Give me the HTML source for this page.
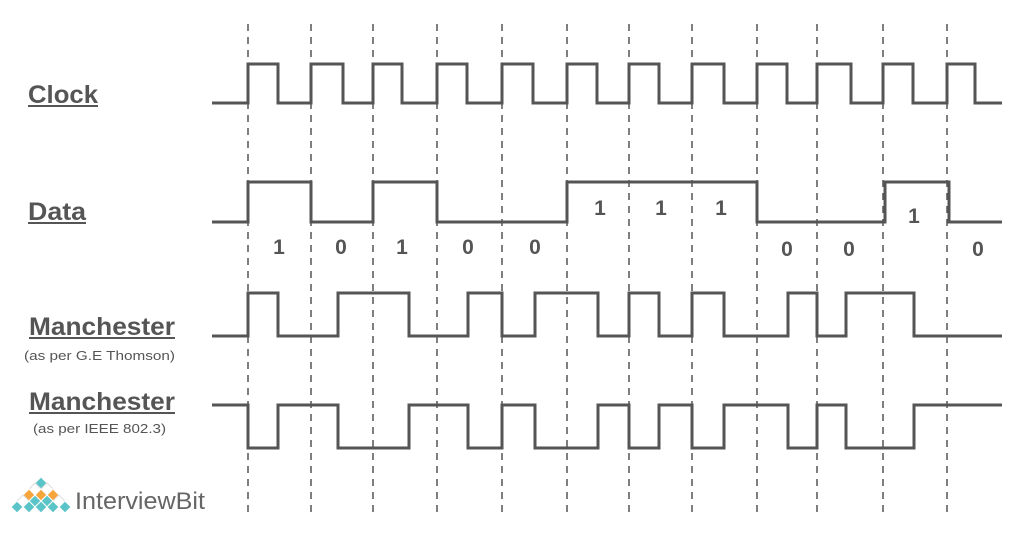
<!DOCTYPE html>
<html><head><meta charset="utf-8"><style>
html,body{margin:0;padding:0;background:#fff;width:1024px;height:536px;overflow:hidden}
</style></head><body>
<svg width="1024" height="536" viewBox="0 0 1024 536" xmlns="http://www.w3.org/2000/svg" font-family="Liberation Sans, sans-serif">
<g stroke="#555" stroke-width="1.5" stroke-dasharray="7,6">
<line x1="248" y1="24" x2="248" y2="512"/><line x1="311" y1="24" x2="311" y2="512"/>
<line x1="373" y1="24" x2="373" y2="512"/><line x1="437" y1="24" x2="437" y2="512"/>
<line x1="502" y1="24" x2="502" y2="512"/><line x1="567" y1="24" x2="567" y2="512"/>
<line x1="629" y1="24" x2="629" y2="512"/><line x1="692" y1="24" x2="692" y2="512"/>
<line x1="757" y1="24" x2="757" y2="512"/><line x1="817" y1="24" x2="817" y2="512"/>
<line x1="883" y1="24" x2="883" y2="512"/><line x1="947" y1="24" x2="947" y2="512"/>
</g>
<g fill="none" stroke="#555" stroke-width="3">
<path d="M212,103 H248 V64 H278 V103 H311 V64 H343 V103 H373 V64 H402 V103 H437 V64 H467 V103 H502 V64 H533 V103 H567 V64 H597 V103 H629 V64 H659 V103 H692 V64 H724 V103 H757 V64 H787 V103 H817 V64 H851 V103 H883 V64 H913 V103 H947 V64 H975 V103 H1002"/>
<path d="M212,222 H248 V182 H311 V222 H373 V182 H437 V222 H567 V182 H757 V222 H885 V182 H949 V222 H1002"/>
<path d="M212,336 H248 V293 H278 V336 H338 V293 H409 V336 H468 V293 H502 V336 H535 V293 H598 V336 H629 V293 H659 V336 H692 V293 H724 V336 H788 V293 H817 V336 H846 V293 H914 V336 H1002"/>
<path d="M212,405 H248 V448 H278 V405 H338 V448 H409 V405 H468 V448 H502 V405 H535 V448 H598 V405 H629 V448 H659 V405 H692 V448 H724 V405 H788 V448 H817 V405 H846 V448 H914 V405 H1002"/>
</g>
<g fill="#555" font-weight="bold" font-size="21" text-anchor="middle">
<text x="279" y="254">1</text><text x="341" y="254">0</text><text x="402" y="254">1</text>
<text x="468" y="254">0</text><text x="535" y="254">0</text>
<text x="600" y="215">1</text><text x="661" y="215">1</text><text x="721" y="215">1</text>
<text x="787" y="256">0</text><text x="849" y="256">0</text>
<text x="914" y="223">1</text><text x="978" y="256">0</text>
</g>
<g fill="#555" font-weight="bold" font-size="25">
<text x="28" y="103" textLength="70" lengthAdjust="spacingAndGlyphs">Clock</text>
<text x="28" y="220" textLength="58" lengthAdjust="spacingAndGlyphs">Data</text>
<text x="29" y="335" font-size="25" textLength="146" lengthAdjust="spacingAndGlyphs">Manchester</text>
<text x="29" y="410" font-size="25" textLength="146" lengthAdjust="spacingAndGlyphs">Manchester</text>
</g>
<g stroke="#555" stroke-width="2">
<line x1="28" y1="106" x2="98" y2="106"/><line x1="28" y1="223" x2="86" y2="223"/>
<line x1="29" y1="338" x2="175" y2="338"/><line x1="29" y1="413" x2="175" y2="413"/>
</g>
<g fill="#555" font-size="13">
<text x="24" y="360" textLength="151" lengthAdjust="spacingAndGlyphs">(as per G.E Thomson)</text>
<text x="33" y="433" textLength="133" lengthAdjust="spacingAndGlyphs">(as per IEEE 802.3)</text>
</g>
<g stroke="#fff" stroke-width="1">
<path d="M41,477 l6,6 -6,6 -6,-6z" fill="#5bc4c8"/>
<path d="M35,483 l6,6 -6,6 -6,-6z" fill="#fff" stroke="#ddd"/><path d="M47,483 l6,6 -6,6 -6,-6z" fill="#fff" stroke="#ddd"/>
<path d="M29,489 l6,6 -6,6 -6,-6z" fill="#f5a53a"/><path d="M41,489 l6,6 -6,6 -6,-6z" fill="#f5a53a"/><path d="M53,489 l6,6 -6,6 -6,-6z" fill="#f5a53a"/>
<path d="M23,495 l6,6 -6,6 -6,-6z" fill="#fff" stroke="#ddd"/><path d="M35,495 l6,6 -6,6 -6,-6z" fill="#5bc4c8"/><path d="M47,495 l6,6 -6,6 -6,-6z" fill="#5bc4c8"/><path d="M59,495 l6,6 -6,6 -6,-6z" fill="#fff" stroke="#ddd"/>
<path d="M17,501 l6,6 -6,6 -6,-6z" fill="#5bc4c8"/><path d="M29,501 l6,6 -6,6 -6,-6z" fill="#5bc4c8"/><path d="M41,501 l6,6 -6,6 -6,-6z" fill="#5bc4c8"/><path d="M53,501 l6,6 -6,6 -6,-6z" fill="#5bc4c8"/><path d="M65,501 l6,6 -6,6 -6,-6z" fill="#5bc4c8"/>
</g>
<text x="75" y="509" fill="#666" font-size="24" textLength="130" lengthAdjust="spacingAndGlyphs">InterviewBit</text>
</svg>
</body></html>
